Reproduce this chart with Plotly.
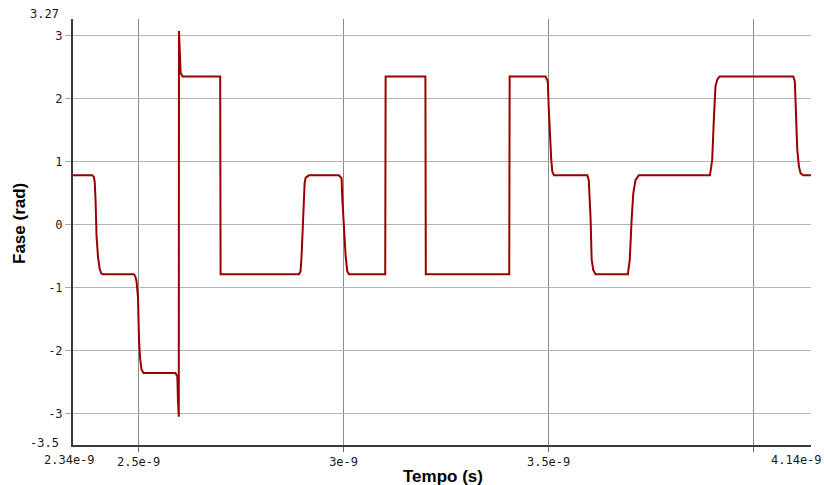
import plotly.graph_objects as go

# Phase of the received signal over time (time in ns, phase in rad)
time_ns = [
    2.340, 2.387, 2.391, 2.393, 2.395, 2.3975, 2.401, 2.405, 2.409, 2.412,
    2.4885, 2.492, 2.495, 2.4985, 2.501, 2.5035, 2.507, 2.512,
    2.590, 2.5945, 2.596, 2.598, 2.5985, 2.600, 2.6025, 2.6075,
    2.699, 2.700,
    2.800, 2.8005, 2.801,
    2.891, 2.895, 2.8975, 2.9005, 2.9017, 2.905, 2.9075, 2.9155,
    2.9885, 2.995, 2.997, 3.0005, 3.005, 3.009, 3.013,
    3.1015, 3.1025,
    3.1995, 3.2005,
    3.404, 3.405,
    3.4925, 3.498, 3.5005, 3.503, 3.5065, 3.509, 3.513,
    3.5945, 3.598, 3.6025, 3.605, 3.609, 3.6145,
    3.6935, 3.698, 3.7025, 3.7065, 3.712, 3.720,
    3.8935, 3.899, 3.903, 3.907, 3.9115, 3.917,
    4.097, 4.1005, 4.1025, 4.1065, 4.1105, 4.1145, 4.121, 4.140,
]
phase_rad = [
    0.785, 0.785, 0.76, 0.68, 0.39, -0.19, -0.51, -0.70, -0.775, -0.785,
    -0.785, -0.82, -0.90, -1.15, -1.82, -2.11, -2.30, -2.356,
    -2.356, -2.41, -2.78, -3.05, 3.08, 2.67, 2.41, 2.356,
    2.356, -0.785,
    -0.785, -0.80, -0.785,
    -0.785, -0.74, -0.50, -0.08, 0.27, 0.667, 0.75, 0.785,
    0.785, 0.74, 0.40, -0.03, -0.50, -0.74, -0.785,
    -0.785, 2.356,
    2.356, -0.785,
    -0.785, 2.356,
    2.356, 2.28, 1.83, 1.40, 1.03, 0.85, 0.785,
    0.785, 0.71, 0.08, -0.55, -0.72, -0.785,
    -0.785, -0.55, 0.08, 0.50, 0.71, 0.785,
    0.785, 1.03, 1.67, 2.20, 2.31, 2.356,
    2.356, 2.28, 1.93, 1.19, 0.93, 0.82, 0.785, 0.785,
]

x_range = [2.34e-9, 4.14e-9]
y_range = [-3.5, 3.27]
x_tick_vals = [2.5e-9, 3.0e-9, 3.5e-9, 4.0e-9]
x_tick_text = ["2.5e-9", "3e-9", "3.5e-9", ""]
y_tick_vals = [-3, -2, -1, 0, 1, 2, 3]
y_tick_text = ["-3", "-2", "-1", "0", "1", "2", "3"]
x_end_labels = ["2.34e-9", "4.14e-9"]
y_end_labels = ["-3.5", "3.27"]

W, H = 824, 485
L, R, T, B = 73, 13, 19, 40
PW, PH = W - L - R, H - T - B


def px(x):
    return (x - L) / PW


def py(y):
    return (H - B - y) / PH


mono = dict(family="DejaVu Sans Mono, Liberation Mono, monospace", size=12, color="#1a1a1a")
title_font = dict(family="Liberation Sans, Arial, sans-serif", size=17, color="#000000")

fig = go.Figure(
    go.Scatter(
        x=[t * 1e-9 for t in time_ns],
        y=phase_rad,
        mode="lines",
        line=dict(color="#990000", width=2),
        hoverinfo="skip",
    )
)

fig.update_layout(
    width=W,
    height=H,
    margin=dict(l=L, r=R, t=T, b=B, pad=0),
    paper_bgcolor="white",
    plot_bgcolor="white",
    showlegend=False,
    xaxis=dict(
        range=x_range,
        tickmode="array",
        tickvals=x_tick_vals,
        ticktext=x_tick_text,
        ticks="outside",
        ticklen=5,
        tickcolor="#666666",
        tickfont=mono,
        showgrid=True,
        gridcolor="#8a8a8a",
        gridwidth=1,
        showline=True,
        linecolor="#3a3a3a",
        linewidth=2,
        zeroline=False,
    ),
    yaxis=dict(
        range=y_range,
        tickmode="array",
        tickvals=y_tick_vals,
        ticktext=y_tick_text,
        ticks="outside",
        ticklen=6,
        tickcolor="#aaaaaa",
        tickfont=mono,
        showgrid=True,
        gridcolor="#b4b4b4",
        gridwidth=1,
        showline=True,
        linecolor="#3a3a3a",
        linewidth=2,
        zeroline=False,
    ),
    annotations=[
        dict(text=x_end_labels[0], xref="paper", yref="paper", x=px(69), y=py(460),
             xanchor="center", yanchor="middle", showarrow=False, font=mono),
        dict(text=x_end_labels[1], xref="paper", yref="paper", x=px(824), y=py(460),
             xanchor="right", yanchor="middle", showarrow=False, font=mono),
        dict(text=y_end_labels[0], xref="paper", yref="paper", x=px(61), y=py(443),
             xanchor="right", yanchor="middle", showarrow=False, font=mono),
        dict(text=y_end_labels[1], xref="paper", yref="paper", x=px(61), y=py(14),
             xanchor="right", yanchor="middle", showarrow=False, font=mono),
        dict(text="<b>Tempo (s)</b>", xref="paper", yref="paper", x=px(443), y=py(476),
             xanchor="center", yanchor="middle", showarrow=False, font=title_font),
        dict(text="<b>Fase (rad)</b>", xref="paper", yref="paper", x=px(20), y=py(224),
             xanchor="center", yanchor="middle", showarrow=False, textangle=-90,
             font=title_font),
    ],
)

fig.write_html("out.html")
